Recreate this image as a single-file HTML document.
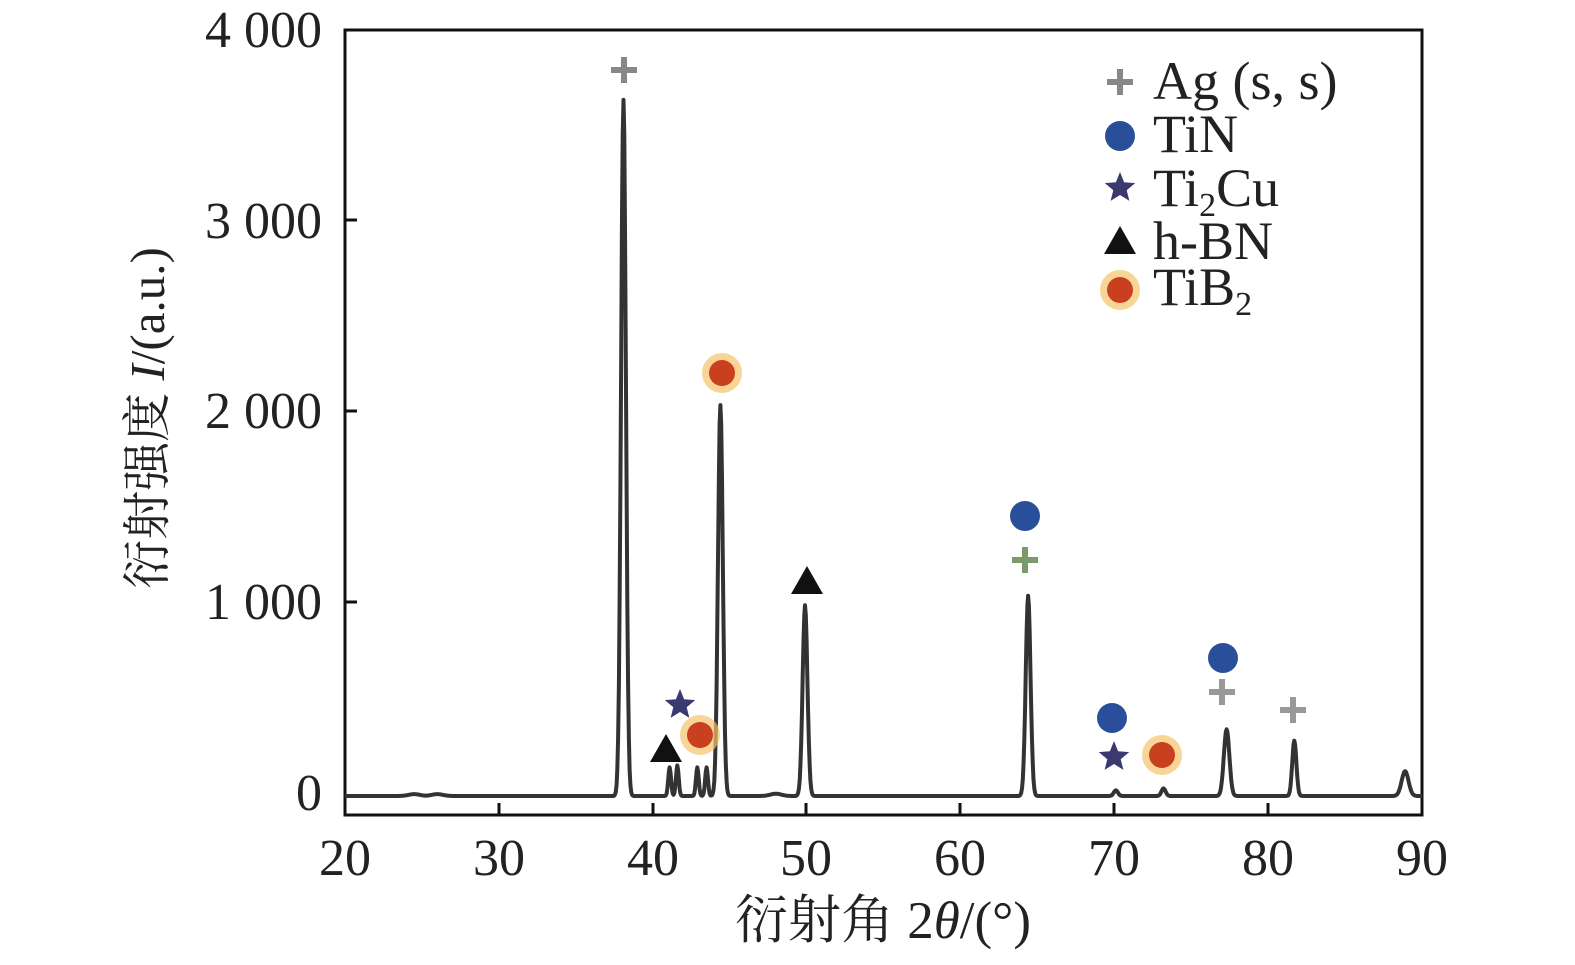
<!DOCTYPE html>
<html><head><meta charset="utf-8"><style>
html,body{margin:0;padding:0;background:#fff;}
svg text{font-family:"Liberation Serif","Noto Serif CJK SC",serif;fill:#222;}
</style></head><body>
<svg id="s" width="1575" height="960" xmlns="http://www.w3.org/2000/svg">
<rect x="345" y="30" width="1077" height="785" fill="none" stroke="#111" stroke-width="3"/>
<g stroke="#111" stroke-width="3">
<line x1="499" y1="815" x2="499" y2="803"/><line x1="653" y1="815" x2="653" y2="803"/>
<line x1="806" y1="815" x2="806" y2="803"/><line x1="960" y1="815" x2="960" y2="803"/>
<line x1="1114" y1="815" x2="1114" y2="803"/><line x1="1268" y1="815" x2="1268" y2="803"/>
<line x1="345" y1="602" x2="357" y2="602"/><line x1="345" y1="411" x2="357" y2="411"/>
<line x1="345" y1="220" x2="357" y2="220"/>
</g>
<g font-size="52" text-anchor="middle">
<text x="345" y="875">20</text><text x="499" y="875">30</text><text x="653" y="875">40</text>
<text x="806" y="875">50</text><text x="960" y="875">60</text><text x="1114" y="875">70</text>
<text x="1268" y="875">80</text><text x="1422" y="875">90</text>
</g>
<g font-size="52" text-anchor="end">
<text x="322" y="810">0</text><text x="322" y="619">1 000</text><text x="322" y="428">2 000</text>
<text x="322" y="238">3 000</text><text x="322" y="47">4 000</text>
</g>
<text x="883" y="938" font-size="53" text-anchor="middle">衍射角 2<tspan font-style="italic">θ</tspan>/(°)</text>
<text transform="translate(164,418) rotate(-90)" font-size="49" text-anchor="middle">衍射强度 <tspan font-style="italic">I</tspan>/(a.u.)</text>
<path id="p" fill="none" stroke="#333" stroke-width="4" stroke-linejoin="round"/>
<g id="m"></g>
<g font-size="54">
<text x="1153" y="99">Ag (s, s)</text>
<text x="1153" y="152">TiN</text>
<text x="1153" y="206">Ti<tspan font-size="34" dy="10">2</tspan><tspan dy="-10">Cu</tspan></text>
<text x="1153" y="259">h-BN</text>
<text x="1153" y="305">TiB<tspan font-size="34" dy="10">2</tspan></text>
</g>
</svg>
<script>
function X(x){return 345+(x-20)*15.386;}
function Y(v){return 796-v*0.1907;}
var peaks=[[38.1,3650,0.35],[44.4,2050,0.35],[49.9,1000,0.35],[64.4,1050,0.35],[77.3,350,0.4],[81.7,290,0.3],[88.9,130,0.5],[41.1,150,0.2],[41.6,160,0.2],[42.9,150,0.2],[43.5,150,0.2],[70.1,30,0.3],[73.2,40,0.3],[24.5,10,0.8],[26,10,0.8],[48,12,0.8]];
var d="";
for(var x=20;x<=90;x+=0.05){var v=0;for(var i=0;i<peaks.length;i++){var p=peaks[i];var t=(x-p[0])/p[2];v+=p[1]*Math.exp(-t*t*2.5);}
d+=(d?"L":"M")+X(x).toFixed(1)+","+Y(v).toFixed(1);}
document.getElementById("p").setAttribute("d",d);
var g=document.getElementById("m"),h="";
function plus(x,y,c){h+='<path d="M'+(x-13)+','+y+'h26M'+x+','+(y-13)+'v26" stroke="'+c+'" stroke-width="6"/>';}
function dot(x,y){h+='<circle cx="'+x+'" cy="'+y+'" r="15" fill="#2a4f9a"/>';}
function tib(x,y){h+='<circle cx="'+x+'" cy="'+y+'" r="20" fill="#f5c36b" opacity="0.7"/><circle cx="'+x+'" cy="'+y+'" r="13" fill="#c8401e"/>';}
function tri(x,y){h+='<path d="M'+x+','+(y-16)+'L'+(x+16)+','+(y+12)+'L'+(x-16)+','+(y+12)+'Z" fill="#111"/>';}
function star(x,y){var s="";for(var i=0;i<10;i++){var r=i%2?7:16,a=-Math.PI/2+i*Math.PI/5;s+=(i?"L":"M")+(x+r*Math.cos(a)).toFixed(1)+","+(y+r*Math.sin(a)).toFixed(1);}h+='<path d="'+s+'Z" fill="#3a3a70"/>';}
plus(624,70,"#888");tib(722,373);tri(807,582);dot(1025,516);plus(1025,560,"#7a9a6a");
star(680,705);tri(666,750);tib(700,735);dot(1112,718);star(1114,757);tib(1162,755);
dot(1223,658);plus(1222,692,"#999");plus(1293,710,"#999");
plus(1120,82,"#888");dot(1120,136);star(1120,188);tri(1120,242);tib(1120,290);
g.innerHTML=h;
</script>
</body></html>
